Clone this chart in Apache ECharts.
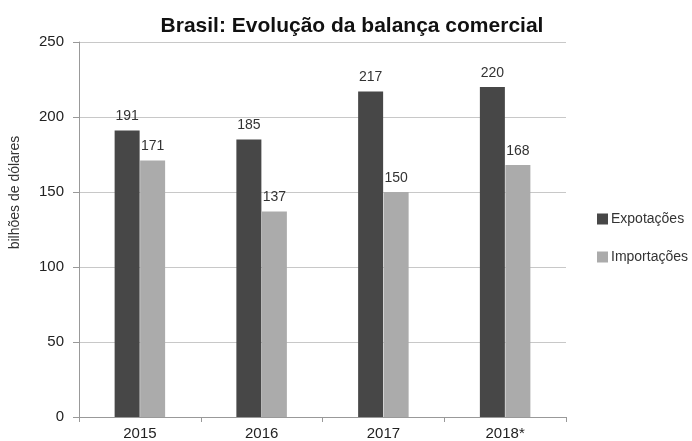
<!DOCTYPE html>
<html>
<head>
<meta charset="utf-8">
<script src="https://cdn.jsdelivr.net/npm/echarts@6/dist/echarts.min.js"></script>
<style>
  html, body { margin: 0; padding: 0; background: #fff; }
  #chart { width: 692px; height: 441px; }
</style>
</head>
<body>
<div id="chart"></div>
<script>
// dados
const anos = ['2015', '2016', '2017', '2018*']
const exportacoes = [191, 185, 217, 220]
const importacoes = [171, 137, 150, 168]
const yTicks = [0, 50, 100, 150, 200, 250]

const fonte = 'Liberation Sans, Arial, sans-serif'

const chart = echarts.init(document.getElementById('chart'))

const rotulo = {
  show: true,
  position: 'top',
  distance: 7,
  color: '#333',
  fontFamily: fonte,
  fontSize: 14
}

chart.setOption({
  backgroundColor: '#fff',
  animation: false,
  title: {
    text: 'Brasil: Evolução da balança comercial',
    left: 347,
    textAlign: 'center',
    top: 11,
    textStyle: { fontFamily: fonte, fontSize: 21, fontWeight: 'bold', color: '#111' }
  },
  legend: {
    orient: 'vertical',
    left: 592,
    top: 207,
    itemWidth: 11,
    itemHeight: 11,
    itemGap: 24,
    icon: 'rect',
    textStyle: { fontFamily: fonte, fontSize: 14, color: '#333', padding: [0, 0, 0, -2] },
    data: ['Expotações', 'Importações']
  },
  grid: { left: 78, right: 126, top: 42, bottom: 22, containLabel: false },
  xAxis: {
    type: 'category',
    data: anos,
    axisLine: { lineStyle: { color: '#999' } },
    axisTick: { show: true, length: 5, lineStyle: { color: '#999' } },
    axisLabel: { fontFamily: fonte, fontSize: 15, color: '#222', margin: 9 }
  },
  yAxis: {
    type: 'value',
    min: yTicks[0],
    max: yTicks[yTicks.length - 1],
    interval: 50,
    name: 'bilhões de dólares',
    nameLocation: 'middle',
    nameGap: 57,
    nameTextStyle: { fontFamily: fonte, fontSize: 14, color: '#333', padding: [0, 0, 0, 74] },
    axisLine: { show: true, lineStyle: { color: '#999' } },
    axisTick: { show: true, length: 6, lineStyle: { color: '#999' } },
    axisLabel: { fontFamily: fonte, fontSize: 15, color: '#222', margin: 15 },
    splitLine: { lineStyle: { color: '#c8c8c8' } }
  },
  series: [
    {
      name: 'Expotações',
      type: 'bar',
      data: exportacoes,
      barWidth: 25,
      barGap: '2%',
      itemStyle: { color: '#474747' },
      label: rotulo
    },
    {
      name: 'Importações',
      type: 'bar',
      data: importacoes,
      barWidth: 25,
      itemStyle: { color: '#ababab' },
      label: rotulo
    }
  ]
})
</script>
</body>
</html>
